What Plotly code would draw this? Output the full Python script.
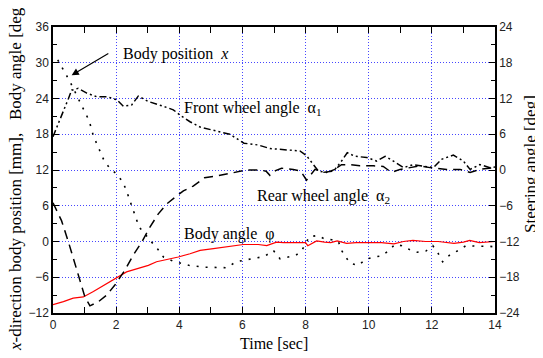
import plotly.graph_objects as go

# ---- data ----
pos_t = [0.15, 0.54, 0.8, 1.0, 1.15, 1.28, 1.47, 1.6, 1.78, 2.02, 2.18, 2.31, 2.44, 2.54, 2.65, 2.73, 2.91, 3.07, 3.28, 3.5, 3.8, 4.3, 4.75, 5.1, 5.5, 5.8, 6.25, 6.7, 6.98, 7.19, 7.45, 7.7, 7.88, 8.12, 8.37, 8.62, 8.83, 9.04, 9.14, 9.28, 9.43, 9.67, 9.91, 10.17, 10.41, 10.62, 10.83, 11.05, 11.31, 11.54, 11.81, 12.03, 12.2, 12.34, 12.58, 12.84, 13.08, 13.3, 13.55, 13.82, 14.0]
pos_v = [30.5, 26.8, 24.0, 21.8, 20.2, 17.7, 15.4, 13.8, 12.4, 11.3, 10.2, 8.8, 6.8, 5.4, 3.8, 2.4, 1.3, 0.2, -1.0, -2.6, -3.3, -4.0, -4.3, -4.3, -4.4, -3.4, -3.0, -2.5, -1.5, -2.9, -2.6, -2.3, -1.5, 0.8, 1.0, 0.4, 0.3, 0.0, -1.5, -2.7, -3.7, -4.0, -3.0, -2.6, -2.4, -1.6, -0.5, -0.7, -1.4, -1.8, -1.6, -0.7, -2.0, -3.4, -2.2, -1.5, -0.7, -0.8, -0.8, -0.8, -0.9]

ang_t = [0, 0.33, 0.64, 0.96, 1.28, 1.59, 2.02, 2.33, 2.7, 3.02, 3.28, 3.6, 3.97, 4.34, 4.66, 5.08, 5.71, 6.03, 6.5, 6.77, 7.08, 7.3, 7.6, 8.0, 8.07, 8.35, 8.6, 8.8, 9.0, 9.3, 9.6, 10.0, 10.4, 10.8, 11.1, 11.4, 11.8, 12.2, 12.7, 13.0, 13.2, 13.5, 13.8, 14.0]
ang_v = [-10.6, -10.1, -9.5, -9.3, -8.4, -7.4, -6.1, -5.1, -4.5, -4.0, -3.4, -3.05, -2.6, -2.05, -1.5, -1.2, -0.7, -0.5, -0.5, -0.7, -0.1, -0.2, -0.2, -0.2, -0.7, 0.1, -0.1, -0.2, 0.1, -0.3, -0.2, -0.2, -0.2, -0.4, 0.0, 0.2, 0.0, 0.0, -0.3, -0.1, 0.2, -0.2, -0.1, 0.0]

fw_t = [0, 0.27, 0.49, 0.59, 0.8, 1.07, 1.38, 1.7, 2.02, 2.23, 2.49, 2.7, 3.02, 3.49, 3.81, 4.08, 4.34, 4.66, 5.08, 5.6, 6.05, 6.5, 6.87, 7.4, 7.82, 8.03, 8.24, 8.41, 8.67, 8.93, 9.14, 9.32, 9.57, 9.94, 10.25, 10.52, 10.78, 11.1, 11.41, 11.68, 12.05, 12.31, 12.68, 13.0, 13.21, 13.52, 13.84, 14.0]
fw_v = [5.6, 9.0, 12.0, 13.4, 13.7, 12.9, 12.3, 12.3, 11.8, 10.7, 10.9, 12.4, 11.5, 10.7, 10.1, 9.0, 8.1, 7.2, 6.7, 6.0, 4.5, 4.2, 3.6, 3.4, 3.2, 2.4, 0.9, -0.2, -0.4, 0.1, 1.5, 2.9, 2.3, 2.1, 1.5, 2.3, 1.5, 0.4, 0.9, 0.7, 0.4, 1.8, 2.5, 1.5, 0.1, 0.9, 0.4, 0.5]

rw_t = [0, 0.27, 0.49, 0.7, 0.86, 1.01, 1.17, 1.44, 1.7, 1.96, 2.28, 2.54, 2.81, 3.07, 3.33, 3.6, 3.86, 4.13, 4.44, 4.8, 5.2, 5.7, 6.13, 6.56, 6.75, 6.87, 7.05, 7.24, 7.61, 7.85, 8.03, 8.3, 8.56, 8.83, 9.14, 9.41, 9.72, 10.15, 10.46, 10.72, 10.99, 11.31, 11.62, 11.94, 12.2, 12.47, 12.89, 13.21, 13.52, 14.0]
rw_v = [-5.5, -8.5, -12.1, -15.7, -18.5, -21.3, -22.8, -22.1, -21.0, -19.3, -16.8, -14.3, -12.1, -9.6, -7.4, -5.7, -4.6, -3.5, -2.7, -1.3, -1.0, -0.4, 0.0, 0.0, -0.2, -0.9, -0.1, 0.3, 0.1, -0.2, -1.7, 0.1, -0.4, -0.2, 0.9, 0.9, 0.7, 0.7, 0.6, -0.4, 0.1, 0.4, 0.7, 0.4, 0.3, 0.1, 0.1, -0.4, 0.1, 0.4]

x_ticks = [0, 2, 4, 6, 8, 10, 12, 14]
left_ticks = [-12, -6, 0, 6, 12, 18, 24, 30, 36]
right_ticks = [-24, -18, -12, -6, 0, 6, 12, 18, 24]

SERIF = "'Liberation Serif', 'Times New Roman', serif"
SANS = "'Liberation Sans', Arial, sans-serif"
GRID = "rgb(70,70,255)"

# page body has an 8px margin: compensate so the plot sits at page px 53..495 x 25..313
OFF = 8
W, H = 543 - OFF, 358 - OFF
L, R, T, B = 53 - OFF, 48, 25 - OFF, 45
PW, PH = W - L - R, H - T - B

fig = go.Figure()
fig.add_trace(go.Scatter(x=pos_t, y=pos_v, mode="lines", name="Body position x",
                         line=dict(color="black", width=1.6, dash="2px,7px")))
fig.add_trace(go.Scatter(x=ang_t, y=ang_v, mode="lines", name="Body angle",
                         line=dict(color="red", width=1.2)))
fig.add_trace(go.Scatter(x=fw_t, y=fw_v, mode="lines", name="Front wheel angle", yaxis="y2",
                         line=dict(color="black", width=1.5, dash="7px,3px,2px,3px,2px,3px")))
fig.add_trace(go.Scatter(x=rw_t, y=rw_v, mode="lines", name="Rear wheel angle", yaxis="y2",
                         line=dict(color="black", width=1.5, dash="9px,6px")))

axis_common = dict(showline=True, linecolor="black", linewidth=1.5, zeroline=False,
                   tickfont=dict(family=SANS, size=12, color="#222"))

fig.update_layout(
    width=W, height=H,
    margin=dict(l=L, r=R, t=T, b=B),
    paper_bgcolor="white", plot_bgcolor="white",
    showlegend=False,
    xaxis=dict(range=[0, 14], tickvals=x_ticks, ticks="inside", ticklen=6, tickcolor="black",
               mirror="allticks", showgrid=True, gridcolor=GRID, griddash="1px,2px", gridwidth=1,
               minor=dict(dtick=1, ticks="inside", ticklen=4, tickcolor="black", showgrid=False),
               **axis_common),
    yaxis=dict(range=[-12, 36], tickvals=left_ticks, ticks="inside", ticklen=6, tickcolor="black",
               mirror=True, showgrid=True, gridcolor=GRID, griddash="1px,2px", gridwidth=1,
               minor=dict(dtick=3, ticks="inside", ticklen=4, tickcolor="black", showgrid=False),
               **axis_common),
    yaxis2=dict(range=[-24, 24], tickvals=right_ticks, ticks="inside", ticklen=6, tickcolor="black",
                overlaying="y", side="right", showgrid=False,
                minor=dict(dtick=3, ticks="inside", ticklen=4, tickcolor="black", showgrid=False),
                **axis_common),
)

ann_font = dict(family=SERIF, size=16, color="black")
fig.add_annotation(x=0.59, y=27.9, ax=1.8, ay=31.7, xref="x", yref="y", axref="x", ayref="y",
                   text="", showarrow=True, arrowhead=2, arrowsize=1.2, arrowwidth=1.2,
                   arrowcolor="black")
fig.add_annotation(x=2.15, y=31.5, xref="x", yref="y", xanchor="left", yanchor="middle",
                   text="Body position\u00a0\u00a0<i>x</i>", showarrow=False, font=ann_font)
fig.add_annotation(x=4.09, y=22.3, xref="x", yref="y", xanchor="left", yanchor="middle",
                   text="Front wheel angle\u00a0\u00a0α<sub>1</sub>", showarrow=False, font=ann_font)
fig.add_annotation(x=6.4, y=7.6, xref="x", yref="y", xanchor="left", yanchor="middle",
                   text="Rear wheel angle\u00a0\u00a0α<sub>2</sub>", showarrow=False, font=ann_font)
fig.add_annotation(x=4.09, y=1.3, xref="x", yref="y", xanchor="left", yanchor="middle",
                   text="Body angle\u00a0\u00a0φ", showarrow=False, font=ann_font)

# axis titles (page-pixel targets converted to paper coordinates)
def px_x(px):
    return (px - 53) / PW

def px_y(py):
    return (313 - py) / PH

fig.add_annotation(x=px_x(274), y=px_y(344), xref="paper", yref="paper", showarrow=False,
                   xanchor="center", yanchor="middle", text="Time [sec]",
                   font=dict(family=SERIF, size=16, color="black"))
fig.add_annotation(x=px_x(16), y=px_y(176), xref="paper", yref="paper",
                   showarrow=False, textangle=-90, xanchor="center", yanchor="middle",
                   text="<i>x</i>-direction body position [mm],\u00a0\u00a0\u00a0Body angle [deg]",
                   font=dict(family=SERIF, size=17, color="black"))
fig.add_annotation(x=px_x(530), y=px_y(163), xref="paper", yref="paper",
                   showarrow=False, textangle=-90, xanchor="center", yanchor="middle",
                   text="Steering angle [deg]",
                   font=dict(family=SERIF, size=17, color="black"))

fig.write_html("out.html")
